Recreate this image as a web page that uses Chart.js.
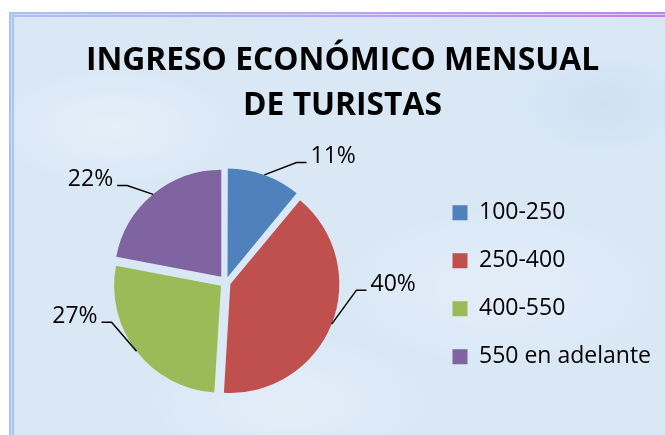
<!DOCTYPE html>
<html>
<head>
<meta charset="utf-8">
<script src="https://cdn.jsdelivr.net/npm/chart.js@4/dist/chart.umd.min.js"></script>
<style>
  html, body { margin: 0; padding: 0; background: #fff; }
  #wrap { position: relative; width: 665px; height: 435px; overflow: hidden; }
  #bg {
    position: absolute; left: 9px; top: 12px; width: 700px; height: 460px;
    background:
      radial-gradient(ellipse 120px 60px at 15% 25%, rgba(255,255,255,0.3), transparent),
      radial-gradient(ellipse 160px 80px at 70% 60%, rgba(255,255,255,0.25), transparent),
      radial-gradient(ellipse 140px 70px at 40% 85%, rgba(255,255,255,0.25), transparent),
      radial-gradient(ellipse 100px 60px at 85% 20%, rgba(190,210,235,0.35), transparent),
      #dae8f6;
  }
  #topband {
    position: absolute; left: 9px; top: 12px; width: 656px; height: 5px;
    background: linear-gradient(90deg, #a9c1f4, #b6a6f4 50%, #c07ef1);
  }
  #topmid {
    position: absolute; left: 11px; top: 14px; width: 654px; height: 1px;
    background: linear-gradient(90deg, #d3def8, #e0cdf8);
  }
  #leftband {
    position: absolute; left: 9px; top: 12px; width: 5px; height: 430px;
    background: #a9c4f4;
  }
  #leftmid {
    position: absolute; left: 11px; top: 14px; width: 1px; height: 430px;
    background: #d3e0f8;
  }
  canvas { position: absolute; left: 0; top: 0; }
</style>
</head>
<body>
<div id="wrap">
  <div id="bg"></div>
  <div id="topband"></div>
  <div id="topmid"></div>
  <div id="leftband"></div>
  <div id="leftmid"></div>
  <canvas id="pieChart" width="665" height="435"></canvas>
</div>
<script>
// Chart data
const categories = ['100-250', '250-400', '400-550', '550 en adelante'];
const percentages = [11, 40, 27, 22];
const sliceColors = ['#4f81bd', '#c0504d', '#9bbb59', '#8064a2'];

const FONT = '"Open Sans", Lato, sans-serif';

// Draws the percentage labels with leader lines, like the Excel original
const leaderLines = {
    id: 'leaderLines',
    afterDatasetsDraw(chart, args, opts) {
        const ctx = chart.ctx;
        const meta = chart.getDatasetMeta(0);
        const total = percentages.reduce((a, b) => a + b, 0);
        ctx.save();
        ctx.strokeStyle = '#000';
        ctx.lineWidth = 1.5;
        ctx.fillStyle = '#000';
        ctx.font = opts.fontSize + 'px ' + FONT;
        ctx.textBaseline = 'middle';
        meta.data.forEach((arc, i) => {
            const p = arc.getProps(['x', 'y', 'startAngle', 'endAngle', 'outerRadius', 'circumference'], true);
            const mid = (p.startAngle + p.endAngle) / 2;
            const off = (arc.options.offset || 0) / 4;
            const fix = 1 - Math.sin(Math.min(Math.PI, p.circumference || 0));
            const shift = off * (1 + fix);
            const sx = p.x + Math.cos(mid) * (p.outerRadius + shift);
            const sy = p.y + Math.sin(mid) * (p.outerRadius + shift);

            // elbow angle is measured clockwise from 12 o'clock
            const e = opts.elbows[i];
            const a = e.angle * Math.PI / 180 - Math.PI / 2;
            const ex = p.x + Math.cos(a) * e.dist;
            const ey = p.y + Math.sin(a) * e.dist;
            const dir = Math.cos(a) >= 0 ? 1 : -1;
            const hx = ex + dir * opts.tail;

            ctx.beginPath();
            ctx.moveTo(sx, sy);
            ctx.lineTo(ex, ey);
            ctx.lineTo(hx, ey);
            ctx.stroke();

            ctx.textAlign = dir > 0 ? 'left' : 'right';
            const pct = Math.round(percentages[i] / total * 100) + '%';
            ctx.fillText(pct, hx + dir * 4, ey - 6);
        });
        ctx.restore();
    }
};

const ctx = document.getElementById('pieChart').getContext('2d');
const chart = new Chart(ctx, {
    type: 'pie',
    data: {
        labels: categories,
        datasets: [{
            data: percentages,
            backgroundColor: sliceColors,
            borderWidth: 0,
            offset: [21, 20, 24, 28]
        }]
    },
    options: {
        responsive: false,
        animation: false,
        layout: {
            padding: { left: 24, right: 4, top: 0, bottom: 32 }
        },
        plugins: {
            title: {
                display: true,
                text: ['INGRESO ECONÓMICO MENSUAL', 'DE TURISTAS'],
                color: '#000',
                font: { family: FONT, size: 31.8, weight: 'bold', lineHeight: 1.42 },
                padding: { top: 38, bottom: 33 }
            },
            legend: {
                position: 'right',
                align: 'center',
                title: { display: true, text: ' ', font: { size: 12 }, padding: 76 },
                labels: {
                    color: '#000',
                    font: { family: FONT, size: 23 },
                    boxWidth: 15,
                    boxHeight: 15,
                    padding: 25
                }
            },
            tooltip: { enabled: false },
            leaderLines: {
                fontSize: 23,
                tail: 10,
                elbows: [
                    { angle: 30.6, dist: 139 },
                    { angle: 93.5, dist: 131 },
                    { angle: 250.7, dist: 121 },
                    { angle: 314.4, dist: 138 }
                ]
            }
        }
    },
    plugins: [leaderLines]
});
</script>
</body>
</html>
